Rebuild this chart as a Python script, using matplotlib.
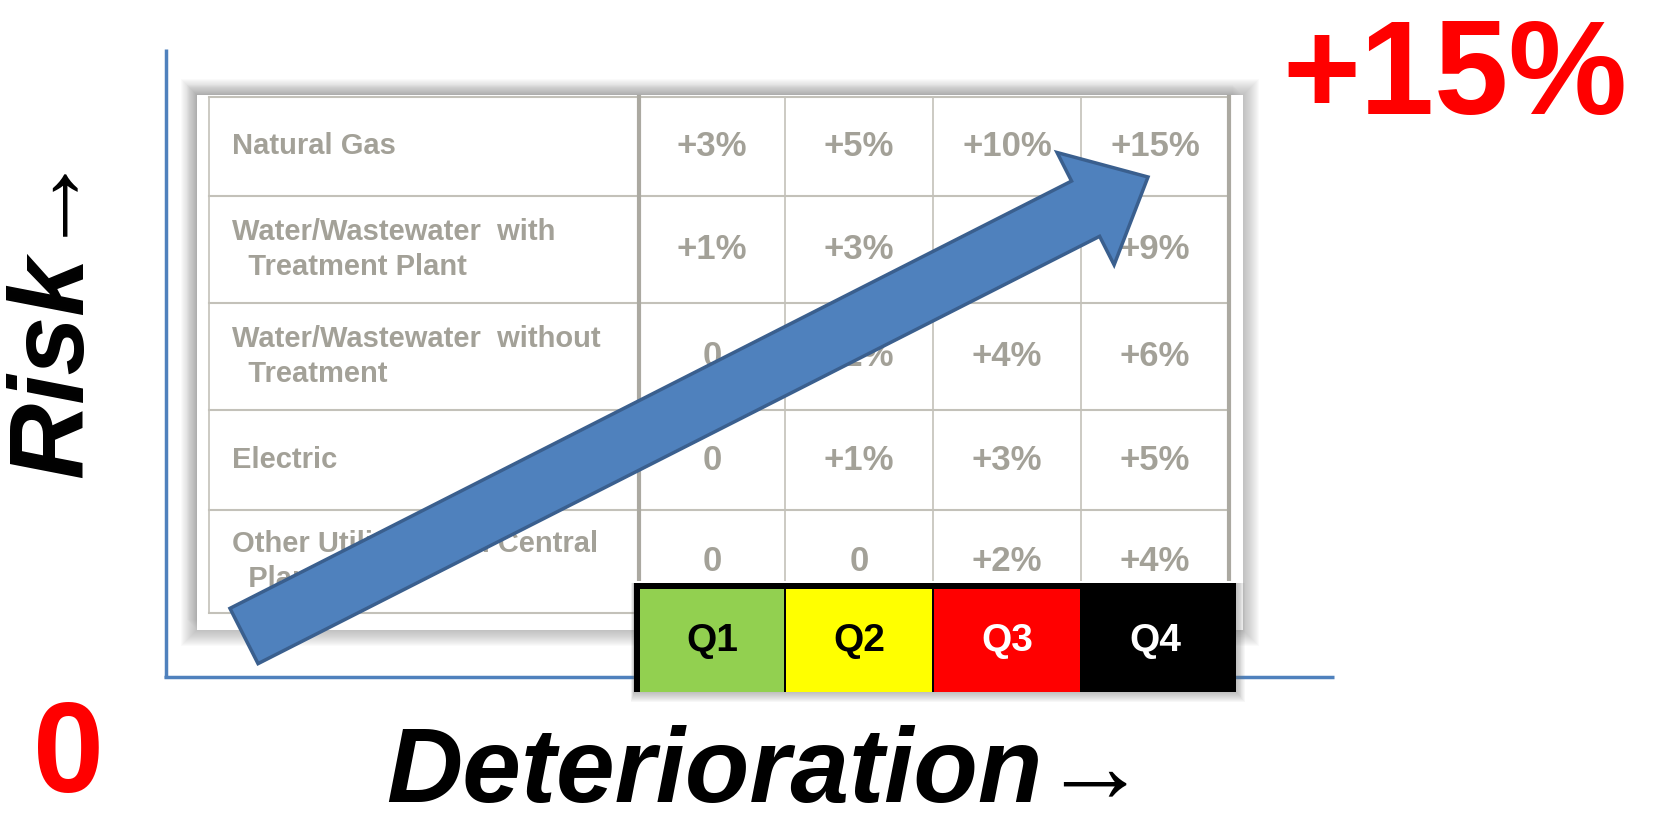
import matplotlib
matplotlib.use('Agg')
import matplotlib.pyplot as plt
from matplotlib.patches import Rectangle, FancyArrow

# table content (risk increase by deterioration quartile)
categories = ['Natural Gas',
              'Water/Wastewater  with\n  Treatment Plant',
              'Water/Wastewater  without\n  Treatment',
              'Electric',
              'Other Utilities with Central\n  Plant']
quartiles = ['Q1', 'Q2', 'Q3', 'Q4']
q1 = [3, 1, 0, 0, 0]
q2 = [5, 3, 2, 1, 0]
q3 = [10, 6, 4, 3, 2]
q4 = [15, 9, 6, 5, 4]
q_colors = ['#92D050', '#FFFF00', '#FF0000', '#000000']
q_text = ['black', 'black', 'white', 'white']

def fmt(v):
    return '0' if v == 0 else f'+{v}%'

# layout in pixel units (figure is 1657 x 821)
W, H = 1657, 821
col_edges = [209, 639, 785, 933, 1081, 1229]
row_edges = [97, 196, 303, 410, 510, 613]
blue = '#4F81BD'
grid_c = '#C3C1B9'
dark_grid = '#ABA9A1'
txt_c = '#A3A198'
sans = ['Liberation Sans', 'DejaVu Sans']

fig = plt.figure(figsize=(W / 100, H / 100), dpi=100)
ax = fig.add_axes([0, 0, 1, 1])
ax.set_xlim(0, W)
ax.set_ylim(H, 0)
ax.axis('off')

# blue axes lines
ax.plot([166, 166], [49, 678], color=blue, lw=2.5, solid_capstyle='butt', zorder=1)
ax.plot([164, 1334], [677, 677], color=blue, lw=2.5, solid_capstyle='butt', zorder=1)

# card with soft shadow (heavier towards top-left)
cx0, cy0, cx1, cy1 = 197, 95, 1243, 630
for i in range(16, 0, -1):
    ax.add_patch(Rectangle((cx0 - i, cy0 - i), cx1 - cx0 + 2 * i, cy1 - cy0 + 2 * i,
                           facecolor='#808080', edgecolor='none', alpha=0.035, zorder=2))
for i in range(10, 0, -1):
    ax.add_patch(Rectangle((cx0 - i, cy0 - i), cx1 - cx0, cy1 - cy0,
                           facecolor='#909090', edgecolor='none', alpha=0.03, zorder=2))
ax.add_patch(Rectangle((cx0, cy0), cx1 - cx0, cy1 - cy0, facecolor='white',
                       edgecolor='none', zorder=3))

# grid
for y in row_edges:
    ax.plot([col_edges[0], col_edges[-1]], [y, y], color=grid_c, lw=1.5, zorder=4)
for j, x in enumerate(col_edges):
    thick = j in (1, len(col_edges) - 1)
    ax.plot([x, x], [row_edges[0], row_edges[-1]], color=dark_grid if thick else grid_c,
            lw=3 if thick else 1.2, zorder=4)

# table text
values = [q1, q2, q3, q4]
for i, cat in enumerate(categories):
    yc = (row_edges[i] + row_edges[i + 1]) / 2
    ax.text(232, yc, cat, ha='left', va='center', fontsize=21, fontweight='bold',
            color=txt_c, family=sans, linespacing=1.35, zorder=5)
    for j, col in enumerate(values):
        xc = (col_edges[j + 1] + col_edges[j + 2]) / 2
        ax.text(xc, yc, fmt(col[i]), ha='center', va='center', fontsize=25,
                fontweight='bold', color=txt_c, family=sans, zorder=5)

# quartile legend box with shadow
lx0, ly0, lx1, ly1 = 634, 583, 1236, 692
for i in range(10, 0, -1):
    ax.add_patch(Rectangle((lx0 - i * 0.3, ly0), lx1 - lx0 + i * 1.2, ly1 - ly0 + i,
                           facecolor='#707070', edgecolor='none', alpha=0.05, zorder=6))
ax.add_patch(Rectangle((lx0, ly0 - 2), lx1 - lx0, ly1 - ly0 + 2, facecolor='white',
                       edgecolor='none', zorder=6))
ax.add_patch(Rectangle((lx0, ly0), lx1 - lx0, ly1 - ly0, facecolor='black',
                       edgecolor='none', zorder=7))
for j, q in enumerate(quartiles):
    x0 = col_edges[j + 1] + 1
    x1 = col_edges[j + 2]
    ax.add_patch(Rectangle((x0, 589), x1 - x0 - 1, ly1 - 589, facecolor=q_colors[j],
                           edgecolor='none', zorder=8))
    ax.text((x0 + x1) / 2, 641, q, ha='center', va='center', fontsize=28,
            fontweight='bold', color=q_text[j], family=sans, zorder=9)

# big arrow
tail = (244, 636)
tip = (1148, 177)
ax.add_patch(FancyArrow(tail[0], tail[1], tip[0] - tail[0], tip[1] - tail[1],
                        width=62, head_width=126, head_length=70,
                        length_includes_head=True, facecolor=blue,
                        edgecolor='#3A5F8E', lw=2.5, zorder=10))

# axis labels and range
ax.text(55, 314, 'Risk\u2192', rotation=90, ha='center', va='center', fontsize=76,
        fontweight='bold', fontstyle='italic', family=sans)
ax.text(386, 802, 'Deterioration\u2192', ha='left', va='baseline', fontsize=76,
        fontweight='bold', fontstyle='italic', family=sans)
ax.text(69, 792, '0', ha='center', va='baseline', fontsize=92, fontweight='bold',
        color='#FF0000', family=sans)
ax.text(1455, 114, f'+{max(q4)}%', ha='center', va='baseline', fontsize=96,
        fontweight='bold', color='#FF0000', family=sans)

fig.savefig('out.png', dpi=100)
